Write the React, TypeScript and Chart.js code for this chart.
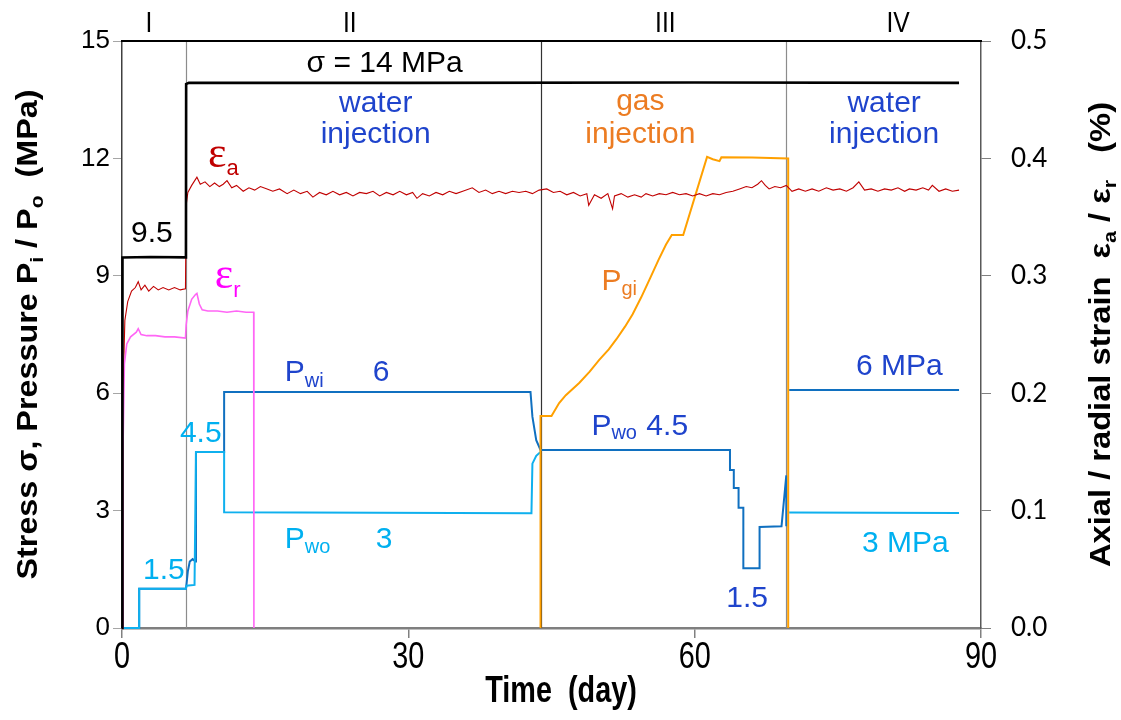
import React, { useEffect, useRef } from "react";
import { Chart, registerables } from "chart.js";

Chart.register(...registerables);

// ---------------- data ----------------
const xTicks = [0, 30, 60, 90];
const leftTicks = [0, 3, 6, 9, 12, 15];
const rightTicks = [0, 0.1, 0.2, 0.3, 0.4, 0.5];
const phaseLabels = ["I", "II", "III", "IV"];
const phaseLabelDays = [2.83, 23.86, 56.93, 81.31];
const phaseBoundaries = [6.7, 43.85, 69.55];

type Pt = [number, number | null];

// Stress sigma (MPa)
const sigmaStress: Pt[] = [
  [0, 0], [0.05, 9.47], [3.0, 9.48], [6.7, 9.47], [6.72, 13.9], [7.0, 13.93],
  [30, 13.93], [60, 13.94], [87.7, 13.93],
];

// Axial strain (%)
const strainAxial: Pt[] = [
  [0, 0], [0.1, 0.2], [0.3, 0.262], [0.6, 0.278], [1.0, 0.287], [1.4, 0.29], [1.7, 0.295],
  [2.0, 0.288], [2.4, 0.292], [2.8, 0.287], [3.3, 0.291], [3.8, 0.288], [4.3, 0.29],
  [4.9, 0.288], [5.5, 0.29], [6.1, 0.288], [6.65, 0.289],
  [6.72, 0.36], [6.9, 0.371], [7.3, 0.377], [7.85, 0.384], [8.2, 0.378], [8.7, 0.38],
  [9.2, 0.376], [9.7, 0.379], [10.2, 0.376], [10.6, 0.378], [11.0, 0.381], [11.5, 0.375],
  [12.0, 0.377], [12.7, 0.372], [13.3, 0.375], [13.9, 0.373], [14.5, 0.376], [15.2, 0.374],
  [15.8, 0.372], [16.5, 0.374], [17.3, 0.37], [18.0, 0.373], [18.7, 0.37], [19.4, 0.372],
  [20.0, 0.367], [20.7, 0.371], [21.4, 0.369], [22.1, 0.372], [22.8, 0.369], [23.5, 0.371],
  [24.2, 0.368], [24.9, 0.371], [25.6, 0.37], [26.3, 0.372], [27.0, 0.368], [27.7, 0.371],
  [28.4, 0.369], [29.1, 0.372], [29.8, 0.369], [30.45, 0.371], [30.9, 0.366], [31.5, 0.37],
  [32.2, 0.368], [32.9, 0.371], [33.6, 0.369], [34.3, 0.372], [35.0, 0.37], [35.7, 0.372],
  [36.7, 0.375], [37.4, 0.371], [38.1, 0.373], [38.8, 0.37], [39.5, 0.372], [40.2, 0.37],
  [40.9, 0.372], [41.6, 0.371], [42.3, 0.372], [43.0, 0.37], [43.7, 0.373], [44.5, 0.374],
  [45.2, 0.371], [45.9, 0.372], [46.6, 0.369], [47.3, 0.371], [48.0, 0.368], [48.7, 0.37],
  [48.9, 0.36], [49.5, 0.369], [50.2, 0.366], [50.9, 0.37], [51.4, 0.357], [51.6, 0.368],
  [52.3, 0.37], [53.0, 0.367], [53.7, 0.369], [54.4, 0.367], [54.9, 0.37], [55.6, 0.368],
  [56.3, 0.37], [57.0, 0.369], [57.7, 0.371], [58.4, 0.369], [59.1, 0.37], [59.8, 0.368],
  [60.5, 0.37], [61.2, 0.368], [61.9, 0.37], [62.6, 0.369], [63.3, 0.371], [64.0, 0.372],
  [64.7, 0.374], [65.4, 0.376], [66.0, 0.375], [66.6, 0.378], [67.0, 0.381], [67.4, 0.377],
  [67.8, 0.374], [68.4, 0.376], [69.0, 0.375], [69.6, 0.377], [70.2, 0.372], [70.9, 0.374],
  [71.6, 0.372], [72.3, 0.374], [73.0, 0.372], [73.8, 0.375], [74.5, 0.373], [75.2, 0.374],
  [75.9, 0.372], [76.6, 0.375], [77.2, 0.38], [77.8, 0.373], [78.5, 0.374], [79.2, 0.372],
  [79.9, 0.374], [80.6, 0.373], [81.3, 0.375], [82.0, 0.372], [82.5, 0.374], [83.2, 0.373],
  [83.9, 0.375], [84.5, 0.373], [84.9, 0.377], [85.6, 0.372], [86.3, 0.374], [87.0, 0.372],
  [87.7, 0.373],
];

// Radial strain (%)
const strainRadial: Pt[] = [
  [0, 0], [0.1, 0.15], [0.25, 0.225], [0.5, 0.242], [0.9, 0.248], [1.5, 0.252], [1.7, 0.255],
  [2.0, 0.25], [2.6, 0.249], [3.5, 0.249], [4.5, 0.248], [5.5, 0.248], [6.65, 0.247],
  [6.72, 0.258], [6.9, 0.27], [7.3, 0.28], [7.7, 0.284], [7.85, 0.285], [8.1, 0.276],
  [8.4, 0.271], [9.0, 0.27], [10, 0.27], [11, 0.269], [12, 0.27], [13, 0.269], [13.8, 0.269],
  [13.82, 0],
];

// Water inlet pressure Pwi (MPa) - dark blue
const pressureWi: Pt[] = [
  [0, 0], [1.8, 0], [1.8, 1.0], [6.7, 1.0], [6.75, 1.1], [6.9, 1.45], [7.1, 1.7], [7.4, 1.76],
  [7.7, 1.7], [7.75, 4.5], [10.7, 4.5], [10.7, 6.03], [42.8, 6.03], [43.0, 5.4], [43.4, 4.8],
  [43.85, 4.55], [63.7, 4.55], [63.7, 4.04], [64.1, 4.04], [64.1, 3.58], [64.6, 3.58],
  [64.6, 3.07], [65.1, 3.07], [65.1, 1.53], [66.8, 1.53], [66.8, 2.58], [69.1, 2.6],
  [69.6, 3.9], [69.6, 2.6], [69.75, null], [69.9, 6.08], [87.7, 6.08],
];

// Water outlet pressure Pwo (MPa) - light blue
const pressureWo: Pt[] = [
  [0, 0], [1.8, 0], [1.8, 1.0], [6.7, 1.0], [6.75, 1.08], [7.6, 1.1], [7.75, 4.5], [10.7, 4.5],
  [10.7, 2.96], [42.9, 2.93], [43.0, 4.2], [43.4, 4.4], [43.85, 4.5], [56, null],
  [69.9, 2.95], [87.7, 2.94],
];

// Gas injection pressure Pgi (MPa) - orange
const pressureGi: Pt[] = [
  [43.85, 0], [43.85, 5.42], [45.0, 5.42], [45.8, 5.75], [46.5, 5.95], [47.9, 6.26],
  [49.0, 6.55], [50.0, 6.85], [51.0, 7.12], [51.8, 7.38], [52.7, 7.7], [53.5, 8.02],
  [54.4, 8.45], [55.3, 8.92], [56.2, 9.4], [57.0, 9.8], [57.6, 10.04], [58.8, 10.04],
  [61.3, 12.04], [61.9, 11.98], [62.6, 11.93], [62.8, 12.03], [66, 12.02], [69.8, 12.0],
  [69.8, 0],
];

// ---------------- styling ----------------
const SANS = "'Liberation Sans', Arial, Helvetica, sans-serif";
const SERIF = "'Liberation Serif', 'Times New Roman', serif";
const DARK_BLUE_TXT = "#1f44cc";
const LIGHT_BLUE = "#00b0f0";
const ORANGE_TXT = "#ec7c22";

type Seg = { t: string; size: number; dy?: number; family?: string; bold?: boolean };
type Ann = { x: number; y: number; color: string; align: "left" | "center"; segs: Seg[] };

const annotations: Ann[] = [
  { x: 27.52, y: 14.21, color: "#000", align: "center", segs: [{ t: "σ = 14 MPa", size: 30 }] },
  { x: 26.58, y: 13.19, color: DARK_BLUE_TXT, align: "center", segs: [{ t: "water", size: 30 }] },
  { x: 26.58, y: 12.39, color: DARK_BLUE_TXT, align: "center", segs: [{ t: "injection", size: 30 }] },
  { x: 54.31, y: 13.24, color: ORANGE_TXT, align: "center", segs: [{ t: "gas", size: 30 }] },
  { x: 54.31, y: 12.39, color: ORANGE_TXT, align: "center", segs: [{ t: "injection", size: 30 }] },
  { x: 79.85, y: 13.19, color: DARK_BLUE_TXT, align: "center", segs: [{ t: "water", size: 30 }] },
  { x: 79.85, y: 12.39, color: DARK_BLUE_TXT, align: "center", segs: [{ t: "injection", size: 30 }] },
  { x: 9.0, y: 11.78, color: "#c00000", align: "left", segs: [{ t: "ε", size: 44, family: SERIF }, { t: "a", size: 22, dy: 8 }] },
  { x: 9.73, y: 8.69, color: "#ff00ff", align: "left", segs: [{ t: "ε", size: 44, family: SERIF }, { t: "r", size: 22, dy: 9 }] },
  { x: 0.94, y: 9.86, color: "#000", align: "left", segs: [{ t: "9.5", size: 30 }] },
  { x: 6.07, y: 4.75, color: LIGHT_BLUE, align: "left", segs: [{ t: "4.5", size: 30 }] },
  { x: 2.2, y: 1.25, color: LIGHT_BLUE, align: "left", segs: [{ t: "1.5", size: 30 }] },
  { x: 17.06, y: 6.31, color: DARK_BLUE_TXT, align: "left", segs: [{ t: "P", size: 30 }, { t: "wi", size: 20, dy: 6 }] },
  { x: 26.27, y: 6.31, color: DARK_BLUE_TXT, align: "left", segs: [{ t: "6", size: 30 }] },
  { x: 17.06, y: 2.04, color: LIGHT_BLUE, align: "left", segs: [{ t: "P", size: 30 }, { t: "wo", size: 20, dy: 5 }] },
  { x: 26.58, y: 2.04, color: LIGHT_BLUE, align: "left", segs: [{ t: "3", size: 30 }] },
  { x: 50.23, y: 8.64, color: ORANGE_TXT, align: "left", segs: [{ t: "P", size: 30 }, { t: "gi", size: 20, dy: 5 }] },
  { x: 49.18, y: 4.93, color: DARK_BLUE_TXT, align: "left", segs: [{ t: "P", size: 30 }, { t: "wo", size: 20, dy: 4 }] },
  { x: 54.94, y: 4.93, color: DARK_BLUE_TXT, align: "left", segs: [{ t: "4.5", size: 30 }] },
  { x: 63.31, y: 0.54, color: DARK_BLUE_TXT, align: "left", segs: [{ t: "1.5", size: 30 }] },
  { x: 76.91, y: 6.47, color: DARK_BLUE_TXT, align: "left", segs: [{ t: "6 MPa", size: 30 }] },
  { x: 77.54, y: 1.94, color: LIGHT_BLUE, align: "left", segs: [{ t: "3 MPa", size: 30 }] },
];

const leftTitle: Seg[] = [
  { t: "Stress σ, Pressure P", size: 29, bold: true },
  { t: "i", size: 19, dy: 6, bold: true },
  { t: " / P", size: 29, bold: true },
  { t: "o", size: 19, dy: 6, bold: true },
  { t: "  (MPa)", size: 29, bold: true },
];
const rightTitle: Seg[] = [
  { t: "Axial / radial strain  ε", size: 29, bold: true },
  { t: "a", size: 19, dy: 6, bold: true },
  { t: " / ε", size: 29, bold: true },
  { t: "r", size: 19, dy: 6, bold: true },
  { t: "   (%)", size: 29, bold: true },
];

function segFont(s: Seg) {
  return `${s.bold ? "bold " : ""}${s.size}px ${s.family || SANS}`;
}

function measureSegs(ctx: CanvasRenderingContext2D, segs: Seg[]) {
  let w = 0;
  for (const s of segs) {
    ctx.font = segFont(s);
    w += ctx.measureText(s.t).width;
  }
  return w;
}

function drawSegs(
  ctx: CanvasRenderingContext2D,
  segs: Seg[],
  x: number,
  y: number,
  align: "left" | "center",
  sx: number
) {
  const w = measureSegs(ctx, segs) * sx;
  const start = align === "center" ? x - w / 2 : x;
  ctx.save();
  ctx.translate(start, y);
  ctx.scale(sx, 1);
  ctx.textAlign = "left";
  ctx.textBaseline = "alphabetic";
  let cx = 0;
  for (const s of segs) {
    ctx.font = segFont(s);
    ctx.fillText(s.t, cx, s.dy || 0);
    cx += ctx.measureText(s.t).width;
  }
  ctx.restore();
}

const overlayPlugin = {
  id: "overlay",
  beforeDatasetsDraw(chart: any) {
    const { ctx, chartArea, scales } = chart;
    const xs = scales.x;
    ctx.save();
    phaseBoundaries.forEach((d, i) => {
      const px = Math.round(xs.getPixelForValue(d)) + 0.5;
      ctx.strokeStyle = i === 1 ? "#333333" : "#8c8c8c";
      ctx.lineWidth = 1.2;
      ctx.beginPath();
      ctx.moveTo(px, chartArea.top);
      ctx.lineTo(px, chartArea.bottom);
      ctx.stroke();
    });
    ctx.restore();
  },
  afterDraw(chart: any) {
    const { ctx, chartArea, scales } = chart;
    const xs = scales.x;
    const ys = scales.y;
    ctx.save();
    // top border
    ctx.strokeStyle = "#000";
    ctx.lineWidth = 2;
    ctx.beginPath();
    ctx.moveTo(chartArea.left - 1, chartArea.top);
    ctx.lineTo(chartArea.right + 1, chartArea.top);
    ctx.stroke();

    // annotations
    for (const a of annotations) {
      ctx.fillStyle = a.color;
      drawSegs(ctx, a.segs, xs.getPixelForValue(a.x), ys.getPixelForValue(a.y), a.align, 1);
    }

    // phase labels
    ctx.fillStyle = "#000";
    phaseLabels.forEach((t, i) => {
      drawSegs(ctx, [{ t, size: 29 }], xs.getPixelForValue(phaseLabelDays[i]), chartArea.top - 9, "center", 0.85);
    });

    // x tick labels
    xTicks.forEach((v) => {
      drawSegs(ctx, [{ t: String(v), size: 36 }], xs.getPixelForValue(v), chartArea.bottom + 40, "center", 0.8);
    });

    // x title
    drawSegs(ctx, [{ t: "Time  (day)", size: 36, bold: true }], 561, chartArea.bottom + 74, "center", 0.8);

    const midY = (chartArea.top + chartArea.bottom) / 2;
    // left title
    ctx.save();
    ctx.translate(37, midY);
    ctx.rotate(-Math.PI / 2);
    const lw = measureSegs(ctx, leftTitle);
    drawSegs(ctx, leftTitle, 0, 0, "center", 490 / lw);
    ctx.restore();
    // right title
    ctx.save();
    ctx.translate(1110, midY);
    ctx.rotate(-Math.PI / 2);
    const rw = measureSegs(ctx, rightTitle);
    drawSegs(ctx, rightTitle, 0, 0, "center", 465 / rw);
    ctx.restore();

    ctx.restore();
  },
};

function toXY(pts: Pt[]) {
  return pts.map(([x, y]) => ({ x, y }));
}

export default function App() {
  const canvasRef = useRef<HTMLCanvasElement | null>(null);

  useEffect(() => {
    if (!canvasRef.current) return;
    const line = (label: string, pts: Pt[], color: string, width: number, axis: string) => ({
      label,
      data: toXY(pts),
      borderColor: color,
      backgroundColor: color,
      borderWidth: width,
      pointRadius: 0,
      tension: 0,
      spanGaps: false,
      yAxisID: axis,
      clip: 4,
    });
    const chart = new Chart(canvasRef.current, {
      type: "line",
      data: {
        datasets: [
          line("σ", sigmaStress, "#000000", 2.6, "y"),
          line("εr", strainRadial, "#ff66f5", 1.6, "y1"),
          line("εa", strainAxial, "#c00000", 1.1, "y1"),
          line("Pgi", pressureGi, "#ffa000", 2, "y"),
          line("Pwo", pressureWo, "#0fb0ee", 2, "y"),
          line("Pwi", pressureWi, "#1070c0", 2, "y"),
        ] as any,
      },
      options: {
        animation: false,
        responsive: true,
        maintainAspectRatio: false,
        layout: { padding: { top: 41, left: 0, right: 0, bottom: 0 } },
        plugins: { legend: { display: false }, tooltip: { enabled: false } },
        scales: {
          x: {
            type: "linear",
            min: 0,
            max: 90,
            ticks: { stepSize: 30, display: false },
            grid: { display: true, drawOnChartArea: false, drawTicks: true, tickLength: 10, color: "#808080", lineWidth: 1.5 },
            border: { display: true, color: "#7f7f7f", width: 2.5 },
            afterFit: (s: any) => {
              s.height = 92;
            },
          },
          y: {
            position: "left",
            min: 0,
            max: 15,
            afterBuildTicks: (s: any) => {
              s.ticks = leftTicks.map((v) => ({ value: v }));
            },
            ticks: {
              color: "#000",
              padding: 3,
              font: { family: SANS, size: 26 },
              callback: (v: any) => String(v),
            },
            grid: { display: true, drawOnChartArea: false, drawTicks: true, tickLength: 9, color: "#a6a6a6", lineWidth: 1 },
            border: { display: true, color: "#404040", width: 1.5 },
            afterFit: (s: any) => {
              s.width = 122;
            },
          },
          y1: {
            position: "right",
            min: 0,
            max: 0.5,
            afterBuildTicks: (s: any) => {
              s.ticks = rightTicks.map((v) => ({ value: v }));
            },
            ticks: {
              color: "#000",
              padding: 20,
              font: { family: "Lato, 'Open Sans', sans-serif", size: 26 },
              callback: (v: any) => Number(v).toFixed(1),
            },
            grid: { display: true, drawOnChartArea: false, drawTicks: true, tickLength: 10, color: "#808080", lineWidth: 1 },
            border: { display: true, color: "#595959", width: 1.5 },
            afterFit: (s: any) => {
              s.width = 140;
            },
          },
        },
      } as any,
      plugins: [overlayPlugin],
    });
    return () => chart.destroy();
  }, []);

  return (
    <div style={{ position: "fixed", left: 0, top: 0, width: 1121, height: 720, background: "#fff" }}>
      <canvas ref={canvasRef} />
    </div>
  );
}
